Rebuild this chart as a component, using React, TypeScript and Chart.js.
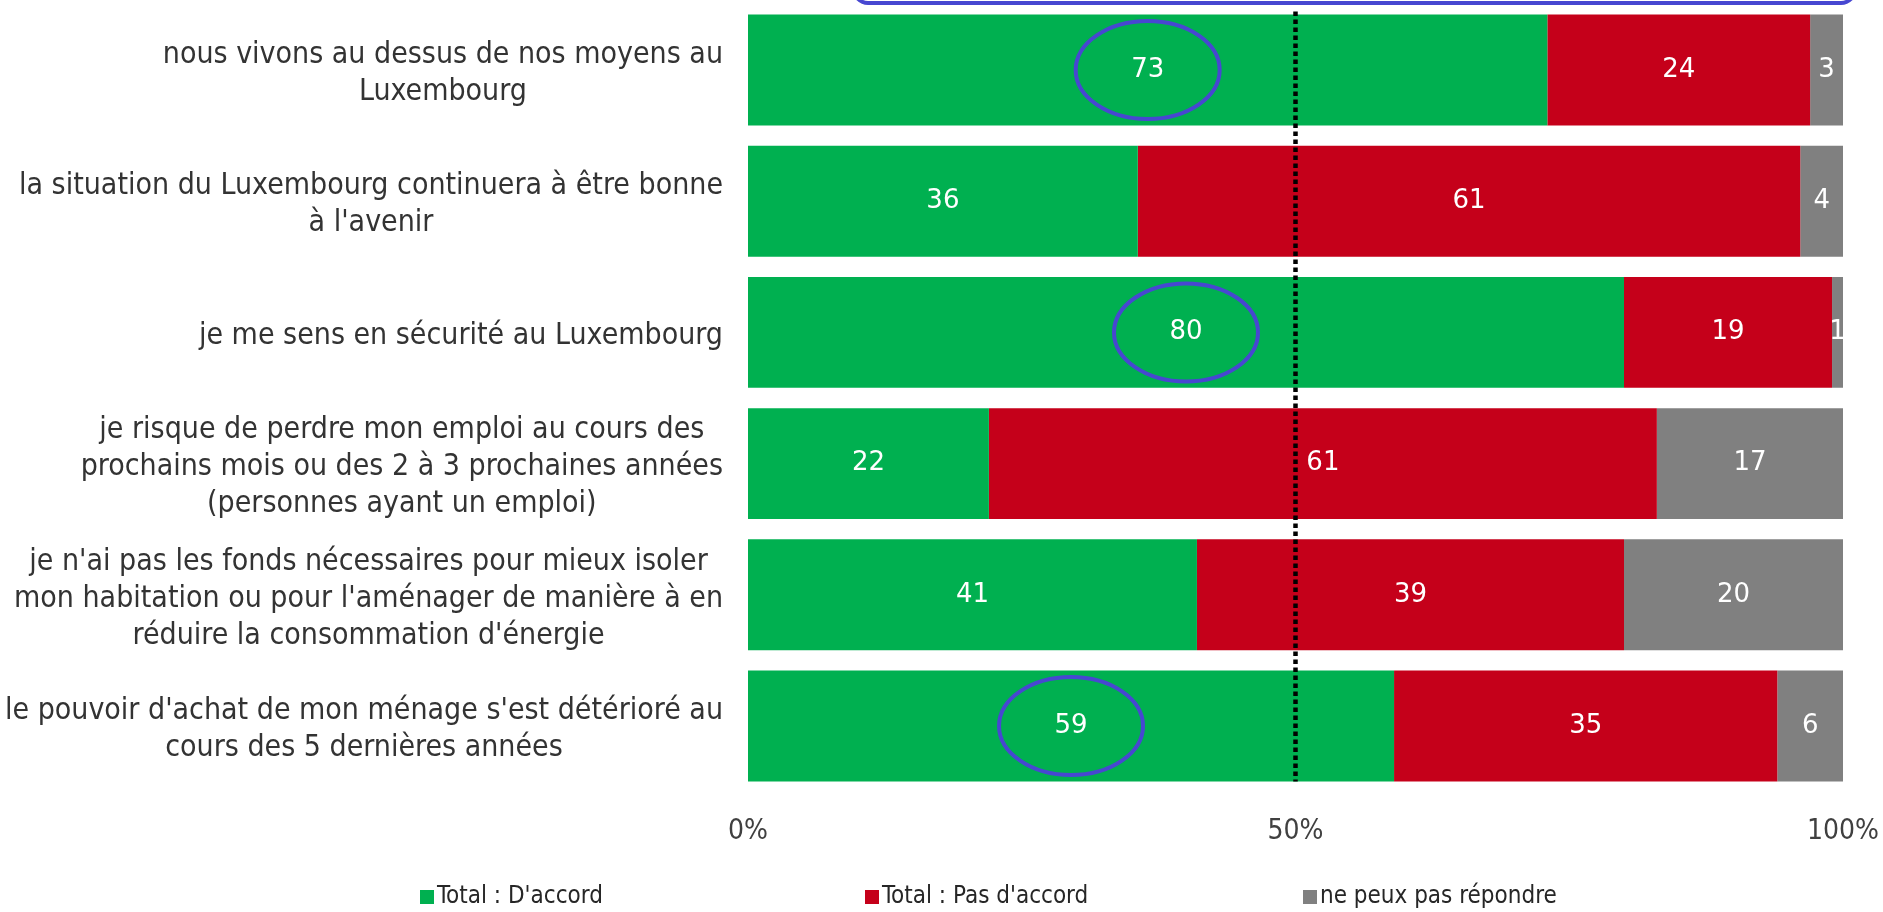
import React, { useEffect, useRef } from "react";
import { Chart, registerables } from "chart.js";

Chart.register(...registerables);

// ---- data ----
const categories: string[][] = [
  ["nous vivons au dessus de nos moyens au", "Luxembourg"],
  ["la situation du Luxembourg continuera à être bonne", "à l'avenir"],
  ["je me sens en sécurité au Luxembourg"],
  [
    "je risque de perdre mon emploi au cours des",
    "prochains mois ou des 2 à 3 prochaines années",
    "(personnes ayant un emploi)",
  ],
  [
    "je n'ai pas les fonds nécessaires pour mieux isoler",
    "mon habitation ou pour l'aménager de manière à en",
    "réduire la consommation d'énergie",
  ],
  ["le pouvoir d'achat de mon ménage s'est détérioré au", "cours des 5 dernières années"],
];

const accord = [73, 35.6, 80, 22, 41, 59];
const pasAccord = [24, 60.5, 19, 61, 39, 35];
const nePeuxPas = [3, 3.9, 1, 17, 20, 6];

const seriesNames = ["Total : D'accord", "Total : Pas d'accord", "ne peux pas répondre"];
const seriesColors = ["#00B050", "#C5001A", "#808080"];

const xTicks = [0, 50, 100];
const referenceValue = 50;
const circledRows = [0, 2, 5];

// ---- styles ----
const CONDENSED = "'DejaVu Sans Condensed', 'DejaVu Sans', sans-serif";
const WIDE = "'DejaVu Sans', Verdana, sans-serif";
const BLUE = "#4747D1";

const overlayPlugin = {
  id: "overlay",
  afterDatasetsDraw(chart: any) {
    const { ctx, chartArea } = chart;
    const xs = chart.scales.x;
    const ys = chart.scales.y;
    ctx.save();

    // category labels (right-aligned block, centered lines)
    ctx.font = `30px ${CONDENSED}`;
    ctx.fillStyle = "#333333";
    ctx.textBaseline = "middle";
    ctx.textAlign = "center";
    const labelRight = chartArea.left - 25;
    const lineH = 37;
    categories.forEach((lines, i) => {
      const w = Math.max(...lines.map((l) => ctx.measureText(l).width));
      const cx = labelRight - w / 2;
      const cy = ys.getPixelForValue(i) + 4;
      lines.forEach((l, j) => {
        ctx.fillText(l, cx, cy + (j - (lines.length - 1) / 2) * lineH);
      });
    });

    // dotted reference line
    const meta0 = chart.getDatasetMeta(0);
    const lastEl = meta0.data[meta0.data.length - 1].getProps(["y", "height"], true);
    const bottom = lastEl.y + lastEl.height / 2;
    const xRef = xs.getPixelForValue(referenceValue);
    ctx.strokeStyle = "#000000";
    ctx.lineWidth = 4.5;
    ctx.setLineDash([4.5, 3.5]);
    ctx.beginPath();
    ctx.moveTo(xRef, chartArea.top + 7);
    ctx.lineTo(xRef, bottom);
    ctx.stroke();
    ctx.setLineDash([]);

    // data labels
    ctx.save();
    ctx.beginPath();
    ctx.rect(chartArea.left, chartArea.top, chartArea.right - chartArea.left, chartArea.bottom - chartArea.top);
    ctx.clip();
    ctx.font = `26px ${WIDE}`;
    ctx.fillStyle = "#FFFFFF";
    ctx.textAlign = "center";
    ctx.textBaseline = "middle";
    chart.data.datasets.forEach((ds: any, di: number) => {
      const meta = chart.getDatasetMeta(di);
      meta.data.forEach((el: any, i: number) => {
        const p = el.getProps(["x", "y", "base"], true);
        ctx.fillText(String(Math.round(ds.data[i])), (p.x + p.base) / 2, p.y);
      });
    });
    ctx.restore();

    // blue ellipses around highlighted values
    ctx.strokeStyle = BLUE;
    ctx.lineWidth = 4;
    circledRows.forEach((i) => {
      const p = meta0.data[i].getProps(["x", "y", "base"], true);
      ctx.beginPath();
      ctx.ellipse((p.x + p.base) / 2, p.y, 72, 49, 0, 0, Math.PI * 2);
      ctx.stroke();
    });

    // blue frame (cropped at top)
    ctx.beginPath();
    const fx = chartArea.left + 106;
    const fw = chartArea.right + 12 - fx;
    (ctx as any).roundRect(fx, -60, fw, 63, 14);
    ctx.stroke();

    // legend
    const legendX = [420, 865, 1303];
    const legendY = 897;
    ctx.font = `24px ${CONDENSED}`;
    ctx.textAlign = "left";
    ctx.textBaseline = "middle";
    seriesNames.forEach((name, k) => {
      ctx.fillStyle = seriesColors[k];
      ctx.fillRect(legendX[k], legendY - 7, 14, 14);
      ctx.fillStyle = "#262626";
      ctx.fillText(name, legendX[k] + 17, legendY);
    });

    ctx.restore();
  },
};

export default function App() {
  const canvasRef = useRef<HTMLCanvasElement | null>(null);

  useEffect(() => {
    document.body.style.margin = "0";
    document.body.style.overflow = "hidden";
    const canvas = canvasRef.current;
    if (!canvas) return;
    const values = [accord, pasAccord, nePeuxPas];
    const chart = new Chart(canvas, {
      type: "bar",
      data: {
        labels: categories.map((c) => c.join(" ")),
        datasets: values.map((data, k) => ({
          label: seriesNames[k],
          data,
          backgroundColor: seriesColors[k],
          borderWidth: 0,
          categoryPercentage: 1,
          barPercentage: 0.845,
        })),
      },
      options: {
        indexAxis: "y",
        animation: false,
        responsive: false,
        devicePixelRatio: 1,
        layout: { padding: { top: 4.4, right: 40, bottom: 0, left: 0 } },
        plugins: {
          legend: { display: false },
          tooltip: { enabled: false },
        },
        scales: {
          x: {
            stacked: true,
            min: 0,
            max: 100,
            afterBuildTicks: (s: any) => {
              s.ticks = xTicks.map((v) => ({ value: v }));
            },
            ticks: {
              callback: (v: any) => `${v}%`,
              font: { family: CONDENSED, size: 28 },
              color: "#404040",
              padding: 23,
              maxRotation: 0,
              autoSkip: false,
            },
            grid: { display: false, drawTicks: false },
            border: { display: false },
            afterFit: (s: any) => {
              s.height = 120.4;
              s.paddingLeft = 0;
              s.paddingRight = 0;
            },
          },
          y: {
            stacked: true,
            ticks: { display: false },
            grid: { display: false, drawTicks: false },
            border: { display: false },
            afterFit: (s: any) => {
              s.width = 748;
              s.paddingTop = 0;
              s.paddingBottom = 0;
            },
          },
        },
      } as any,
      plugins: [overlayPlugin],
    });
    return () => chart.destroy();
  }, []);

  return (
    <div style={{ position: "fixed", left: 0, top: 0, width: "1883px", height: "912px" }}>
      <canvas ref={canvasRef} width={1883} height={912} style={{ display: "block" }} />
    </div>
  );
}
